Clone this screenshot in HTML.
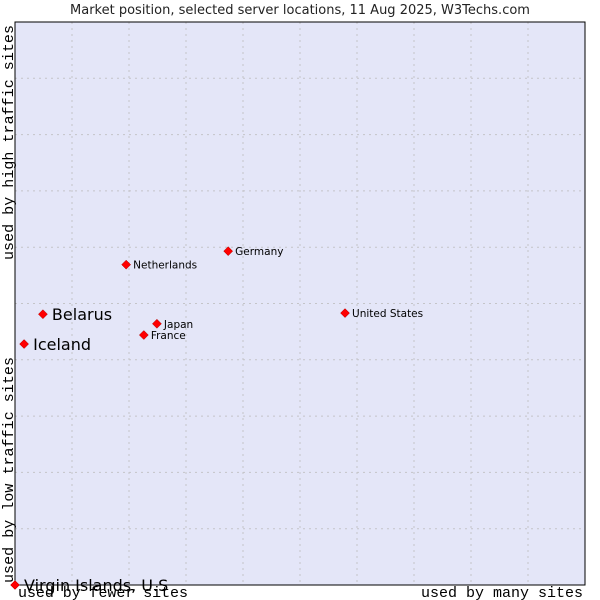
<!DOCTYPE html>
<html><head><meta charset="utf-8"><style>
body{margin:0;background:#fff;width:600px;height:600px;overflow:hidden}
svg{display:block}
</style></head><body>
<svg id="chart" width="600" height="600" xmlns="http://www.w3.org/2000/svg">
<text x="300" y="14" text-anchor="middle" font-family="DejaVu Sans, sans-serif" font-size="13" fill="#222">Market position, selected server locations, 11 Aug 2025, W3Techs.com</text>
<rect x="15" y="22" width="570" height="563" fill="#e4e6f8"/>
<g id="grid"></g>
<rect x="15" y="22" width="570" height="563" fill="none" stroke="#000" stroke-width="1"/>
<g id="points"></g>
<text transform="translate(13,260) rotate(-90)" font-family="Liberation Mono, monospace" font-size="15" fill="#000" textLength="235">used by high traffic sites</text>
<text transform="translate(13,583) rotate(-90)" font-family="Liberation Mono, monospace" font-size="15" fill="#000" textLength="226">used by low traffic sites</text>
<text x="18" y="597" font-family="Liberation Mono, monospace" font-size="15" fill="#000" textLength="170">used by fewer sites</text>
<text x="421" y="597" font-family="Liberation Mono, monospace" font-size="15" fill="#000" textLength="162">used by many sites</text>
</svg>
<script>
const countries=["Virgin Islands, U.S","Iceland","Belarus","Netherlands","Germany","Japan","France","United States"];
const xValues=[0,1.6,4.9,19.5,37.4,24.9,22.6,57.9];
const yValues=[0,42.8,48.1,56.9,59.3,46.4,44.4,48.3];
const bigLabel=[true,true,true,false,false,false,false,false];
const L=15,T=22,W=570,H=563;
const sx=v=>L+v/100*W, sy=v=>T+H-v/100*H;
const ns="http://www.w3.org/2000/svg";
const grid=document.getElementById('grid');
for(let i=1;i<10;i++){
 const a=document.createElementNS(ns,'line');
 
 
 a.setAttribute('x1',sx(i*10));a.setAttribute('x2',sx(i*10));a.setAttribute('y1',T);a.setAttribute('y2',T+H);
 a.setAttribute('stroke','#c4c4c8');a.setAttribute('stroke-dasharray','2,4');grid.appendChild(a);
 const b=document.createElementNS(ns,'line');
 
 
 b.setAttribute('y1',sy(i*10));b.setAttribute('y2',sy(i*10));b.setAttribute('x1',L);b.setAttribute('x2',L+W);
 b.setAttribute('stroke','#c4c4c8');b.setAttribute('stroke-dasharray','2,4');grid.appendChild(b);
}
const pts=document.getElementById('points');
countries.forEach((c,i)=>{
 const x=sx(xValues[i]),y=sy(yValues[i]);
 const d=document.createElementNS(ns,'path');
 
 
 d.setAttribute('d',`M${x-4.5},${y}L${x},${y-4.5}L${x+4.5},${y}L${x},${y+4.5}Z`);
 d.setAttribute('fill','#f00');d.setAttribute('stroke','#a00');d.setAttribute('stroke-width','0.5');
 pts.appendChild(d);
 const t=document.createElementNS(ns,'text');
 
 
 t.setAttribute('x',x+(bigLabel[i]?9:7));t.setAttribute('y',y+(bigLabel[i]?6:4));
 t.setAttribute('font-family','DejaVu Sans, sans-serif');
 t.setAttribute('font-size',bigLabel[i]?'16':'10.5');
 t.setAttribute('fill','#000');
 t.textContent=c;pts.appendChild(t);
});
</script>
</body></html>
